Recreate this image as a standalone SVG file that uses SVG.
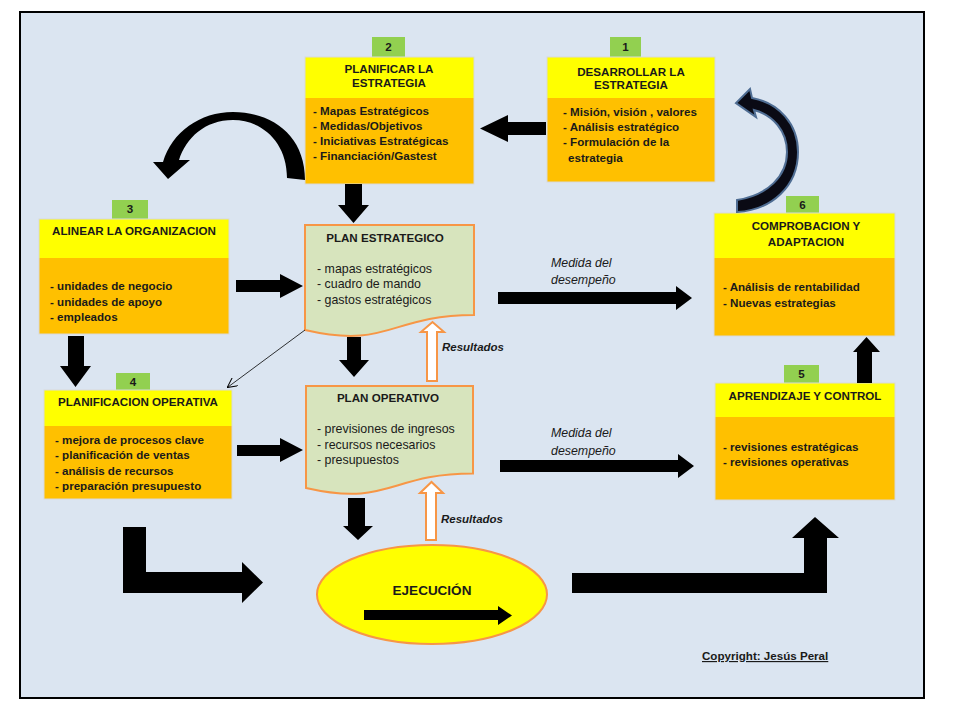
<svg xmlns="http://www.w3.org/2000/svg" width="960" height="720" viewBox="0 0 960 720">
<style>
.hdr{fill:#ffff00}
.body{fill:#ffc000}
.tag{fill:#92d050}
.t{font-family:"Liberation Sans",Arial,sans-serif;font-size:11.6px;font-weight:bold;fill:#1a1a1a}
.c{text-anchor:middle}
.r{font-family:"Liberation Sans",Arial,sans-serif;font-size:12.4px;fill:#1a1a1a}
.i{font-family:"Liberation Sans",Arial,sans-serif;font-size:12.4px;font-style:italic;fill:#1a1a1a}
.bi{font-family:"Liberation Sans",Arial,sans-serif;font-size:11.5px;font-style:italic;font-weight:bold;fill:#1a1a1a}
.doc{fill:#d7e4bd;stroke:#f79646;stroke-width:2}
.blk{fill:#000}
.hol{fill:#fff;stroke:#f79646;stroke-width:2}
.frame{stroke:#d9d9d9;stroke-width:1;fill:none}
</style>
<defs>
<marker id="open" viewBox="0 0 10 10" refX="9" refY="5" markerWidth="10" markerHeight="10" orient="auto" markerUnits="userSpaceOnUse">
<path d="M0,0 L10,5 L0,10" fill="none" stroke="#000" stroke-width="1"/>
</marker>
</defs>
<rect x="0" y="0" width="960" height="720" fill="#fff"/>
<rect x="20" y="12" width="904" height="686" fill="#dbe5f1" stroke="#000" stroke-width="2"/>

<g id="box2">
<rect class="tag" x="372" y="37" width="33" height="20"/>
<text class="t c" x="388.5" y="51">2</text>
<rect class="hdr" x="305" y="57" width="169" height="41"/>
<rect class="body" x="305" y="98" width="169" height="86"/>
<rect class="frame" x="305" y="57" width="169" height="127"/>
<text class="t c" x="389" y="73">PLANIFICAR LA</text>
<text class="t c" x="389" y="87">ESTRATEGIA</text>
<text class="t" x="313" y="115">- Mapas Estratégicos</text>
<text class="t" x="313" y="130">- Medidas/Objetivos</text>
<text class="t" x="313" y="145">- Iniciativas Estratégicas</text>
<text class="t" x="313" y="160">- Financiación/Gastest</text>
</g>

<g id="box1">
<rect class="tag" x="610" y="37" width="31" height="20"/>
<text class="t c" x="625.5" y="51">1</text>
<rect class="hdr" x="547" y="57" width="168" height="41"/>
<rect class="body" x="547" y="98" width="168" height="84"/>
<rect class="frame" x="547" y="57" width="168" height="125"/>
<text class="t c" x="631" y="76">DESARROLLAR LA</text>
<text class="t c" x="631" y="89">ESTRATEGIA</text>
<text class="t" x="563" y="116">- Misión, visión , valores</text>
<text class="t" x="563" y="131">- Análisis estratégico</text>
<text class="t" x="563" y="146">- Formulación de la</text>
<text class="t" x="568" y="162">estrategia</text>
</g>

<g id="box3">
<rect class="tag" x="112" y="200" width="36" height="19"/>
<text class="t c" x="130" y="213">3</text>
<rect class="hdr" x="39" y="219" width="190" height="39"/>
<rect class="body" x="39" y="258" width="190" height="76"/>
<rect class="frame" x="39" y="219" width="190" height="115"/>
<text class="t c" x="134" y="235">ALINEAR LA ORGANIZACION</text>
<text class="t" x="50" y="290">- unidades de negocio</text>
<text class="t" x="50" y="306">- unidades de apoyo</text>
<text class="t" x="50" y="321">- empleados</text>
</g>

<g id="box4">
<rect class="tag" x="116" y="373" width="34" height="17"/>
<text class="t c" x="133" y="386">4</text>
<rect class="hdr" x="44" y="390" width="188" height="36"/>
<rect class="body" x="44" y="426" width="188" height="73"/>
<rect class="frame" x="44" y="390" width="188" height="109"/>
<text class="t c" x="138" y="406">PLANIFICACION OPERATIVA</text>
<text class="t" x="55" y="444">- mejora de procesos clave</text>
<text class="t" x="55" y="459">- planificación de ventas</text>
<text class="t" x="55" y="475">- análisis de recursos</text>
<text class="t" x="55" y="490">- preparación presupuesto</text>
</g>

<g id="box6">
<rect class="tag" x="786" y="196" width="33" height="17"/>
<text class="t c" x="802.5" y="209">6</text>
<rect class="hdr" x="714" y="213" width="181" height="45"/>
<rect class="body" x="714" y="258" width="181" height="78"/>
<rect class="frame" x="714" y="213" width="181" height="123"/>
<text class="t c" x="806" y="230">COMPROBACION Y</text>
<text class="t c" x="806" y="246">ADAPTACION</text>
<text class="t" x="723" y="291">- Análisis de rentabilidad</text>
<text class="t" x="723" y="307">- Nuevas estrategias</text>
</g>

<g id="box5">
<rect class="tag" x="784" y="365" width="35" height="18"/>
<text class="t c" x="801.5" y="378">5</text>
<rect class="hdr" x="715" y="383" width="180" height="34"/>
<rect class="body" x="715" y="417" width="180" height="83"/>
<rect class="frame" x="715" y="383" width="180" height="117"/>
<text class="t c" x="805" y="400">APRENDIZAJE Y CONTROL</text>
<text class="t" x="723" y="451">- revisiones estratégicas</text>
<text class="t" x="723" y="466">- revisiones operativas</text>
</g>

<g id="plan-estrategico">
<path class="doc" d="M305,225 H474 V315 C389.5,315 389.5,349.5 305,330 Z"/>
<text class="t c" x="385" y="242">PLAN ESTRATEGICO</text>
<text class="r" x="317" y="273">- mapas estratégicos</text>
<text class="r" x="317" y="288">- cuadro de mando</text>
<text class="r" x="317" y="304">- gastos estratégicos</text>
</g>

<g id="plan-operativo">
<path class="doc" d="M306,386 H473 V473.5 C389.5,473.5 389.5,507 306,488 Z"/>
<text class="t c" x="388" y="402">PLAN OPERATIVO</text>
<text class="r" x="317" y="433">- previsiones de ingresos</text>
<text class="r" x="317" y="449">- recursos necesarios</text>
<text class="r" x="317" y="464">- presupuestos</text>
</g>

<g id="ejecucion">
<ellipse cx="432" cy="594.5" rx="115" ry="49.5" fill="#ffff00" stroke="#f79646" stroke-width="2"/>
<text class="t c" x="432" y="595" style="font-size:13.5px">EJECUCIÓN</text>
<path class="blk" d="M364,610 H498 V606 L512,615.5 L498,625 V620 H364 Z"/>
</g>

<g id="copyright">
<text class="t" x="702" y="660" text-decoration="underline">Copyright: Jesús Peral</text>
</g>

<g id="connectors">
<path class="blk" d="M546,122 H508 V115 L480,128.5 L508,142 V135 H546 Z"/>
<path class="blk" d="M345,184 H362 V205 H369 L353.5,223 L338,205 H345 Z"/>
<path class="blk" d="M287,178 C287,142 262,120 233,120 C205,120 186,138 179,160 L190,160 L168,179 L153,162 L163,162 C172,132 200,112 233,112 C272,112 305,135 305,180 Z"/>
<path class="blk" d="M236,280 H280 V274 L303,286 L280,298 V292 H236 Z"/>
<path class="blk" d="M68,336 H84 V366 H91 L75.5,387 L60,366 H68 Z"/>
<line x1="305" y1="330" x2="228" y2="387" stroke="#000" stroke-width="0.8" marker-end="url(#open)"/>
<path class="blk" d="M237,445 H280 V438 L303,450 L280,462 V456 H237 Z"/>
<path class="blk" d="M347,337 H361 V360 H369 L354,377 L339,360 H347 Z"/>
<path class="blk" d="M348,498 H365 V526 H373 L358,540 L343,526 H348 Z"/>
<path class="hol" d="M427,381 V332 H421 L432.5,322 L444,332 H437 V381 Z"/>
<path class="hol" d="M426,540 V493 H420 L431.5,482 L443,493 H436 V540 Z"/>
<text class="bi" x="442" y="351">Resultados</text>
<text class="bi" x="441" y="523">Resultados</text>
<path class="blk" d="M498,292 H676 V286 L692,298 L676,310 V304 H498 Z"/>
<text class="i" x="551" y="267">Medida del</text>
<text class="i" x="551" y="284">desempeño</text>
<path class="blk" d="M500,460 H678 V454 L694,466 L678,478 V472 H500 Z"/>
<text class="i" x="551" y="437">Medida del</text>
<text class="i" x="551" y="455">desempeño</text>
<path class="blk" d="M857,383 V352 H853 L866.5,337 L880,352 H872 V383 Z"/>
<path d="M737,200 C768,195 787,176 787,152 C787,131 773,115 754,110 L756,117 L736,103 L750,89 L752,98 C779,103 798,124 798,152 C798,186 772,210 737,212 Z" fill="#0a0a14" stroke="#4f6d93" stroke-width="2"/>
<path class="blk" d="M123,527 H146 V572 H242 V562 L263,582.5 L242,603 V593 H123 Z"/>
<path class="blk" d="M572,573 H804 V538 H792 L815,517 L839,538 H827 V593 H572 Z"/>
</g>
</svg>
